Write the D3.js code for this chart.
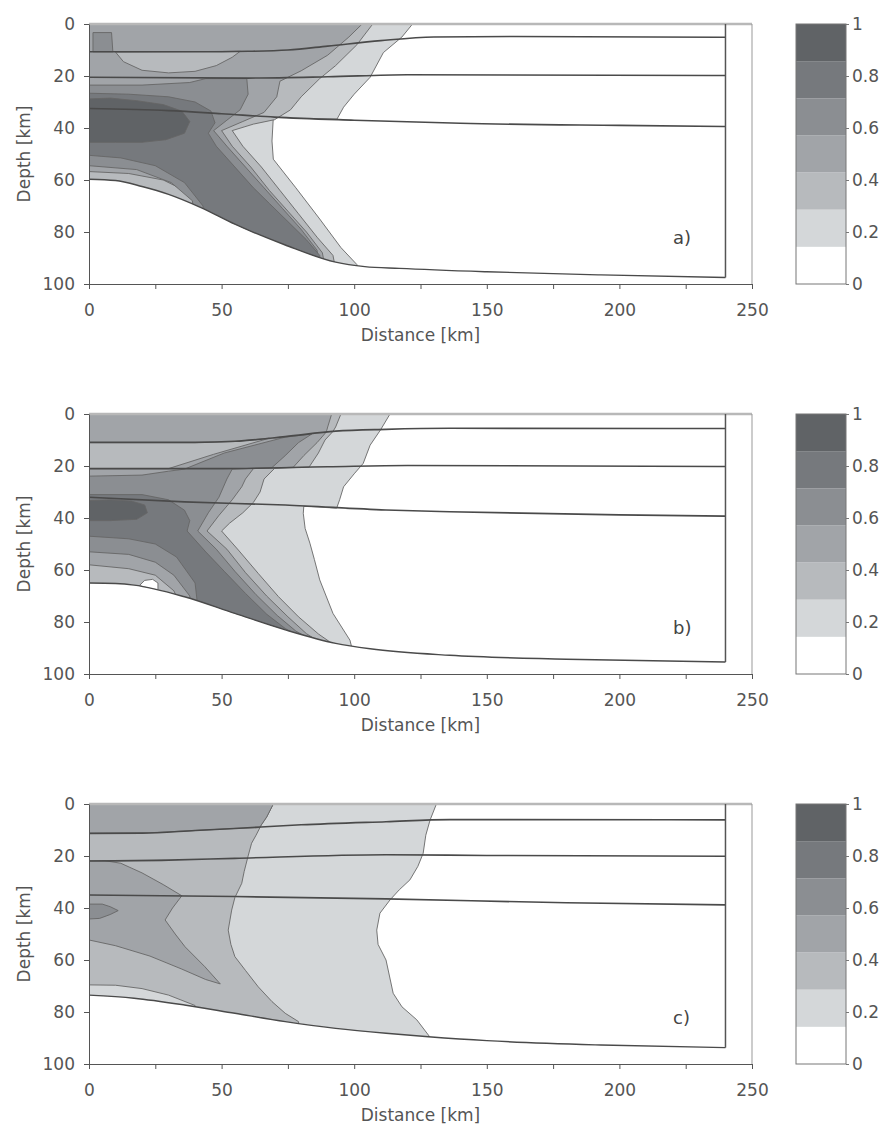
<!DOCTYPE html>
<html><head><meta charset="utf-8">
<script src="https://cdn.jsdelivr.net/npm/d3@7"></script>
<style>
body{margin:0;background:#fff;}
svg{display:block;font-family:"DejaVu Sans",sans-serif;}
</style></head><body>
<svg id="chart" width="888" height="1127"></svg>
<script>
// ---------------- data (distance km, depth km) ----------------
const xTicks = [0,25,50,75,100,125,150,175,200,225,250];
const yTicks = [0,20,40,60,80,100];
const cbTicks = [0,0.2,0.4,0.6,0.8,1];
const contourLevels = [0,0.143,0.286,0.429,0.571,0.714,0.857,1];
const panelLabels = ["a)","b)","c)"];
const xLabel = "Distance [km]";
const yLabel = "Depth [km]";

// panel a
const aLayers = [
  [[0,10.7],[40,10.7],[60,10.5],[75,10],[90,8.5],[110,6.4],[130,5.0],[160,4.8],[240,5.1]],
  [[0,20.5],[60,20.8],[90,20.3],[120,19.5],[240,19.8]],
  [[0,32.5],[30,33.3],[50,34.5],[70,35.8],[100,37],[140,38.2],[200,39],[240,39.4]]
];
const aBottom = [[0,59.7],[10,60.2],[20,62.5],[30,65.5],[42,70.5],[55,77],[74,85],[93,91.6],[104,93.3],[117,94],[150,95.3],[193,96.5],[240,97.5]];
const aRegions = [
  {level:1, pts:[[-5,-5],[123,-5],[122,0],[118,5],[111,11],[106,20.5],[100,27],[96,32],[93.5,36.6],[80,36.3],[69.5,35.9],[69,45],[69.5,52],[78,63],[87,75],[95,86],[101,92.5],[104,110],[-5,110]]},
  {level:2, pts:[[-5,-5],[108,-5],[107,0],[101,8],[93,16],[87,21],[80,28],[76,33],[70,36.8],[62,38.5],[54,41],[58,47],[65,55],[72,64],[79,73],[86,82],[92,89],[96,110],[-5,110]]},
  {level:3, pts:[[-5,-5],[104,-5],[103,0],[98,5],[90,12],[80,18],[72,22],[70.8,28],[66,34],[58,37.5],[50,41],[54,47],[61,55],[68,64],[75,72],[82,80],[88,88],[92,110],[-5,110]]},
  {level:2, pts:[[10,10.8],[13,14.5],[20,17.8],[30,18.8],[40,18.2],[48,16],[54,12.8],[57,10.5]]},
  {level:2, pts:[[-5,56.5],[15,57.5],[28,60],[36,64],[41,69],[41,110],[-5,110]]},
  {level:4, pts:[[1.5,3.3],[8.5,3.3],[9,10.7],[1.5,10.7]]},
  {level:4, pts:[[-5,23.5],[20,23.5],[38,22.5],[44,21],[59.5,21],[60,27],[57,33],[52,37],[47,41],[52,47],[59,55],[66,63],[73,71],[80,79],[86,87],[89,110],[42,110],[39,68],[31,61],[18,56],[0,54.5],[-5,54.5]]},
  {level:5, pts:[[-5,26.5],[15,27],[30,28],[40,30],[46,33.5],[47.5,38],[45,42],[48,47],[55,55],[62,63],[68,69],[75,76],[82,83],[87,89],[90,110],[46,110],[43,70],[36,61],[25,54.5],[12,51.5],[0,50.5],[-5,50.5]]},
  {level:6, pts:[[-5,29],[8,28.5],[18,29.5],[28,31],[35,33.5],[38,37.5],[36,42],[29,44.5],[20,45.5],[10,45.5],[-5,45.5]]}
];

// panel b
const bLayers = [
  [[0,10.9],[40,10.9],[55,10.5],[74,8.7],[93,6.6],[112,5.9],[136,5.5],[240,5.6]],
  [[0,21],[50,21],[90,20.3],[120,19.8],[240,20.2]],
  [[0,32],[36,33.8],[74,35],[112,36.9],[136,37.6],[200,38.8],[240,39.3]]
];
const bBottom = [[0,65],[10,65.2],[17,65.8],[36,70.3],[55,76.7],[74,83],[93,88.2],[106,90.3],[136,92.8],[180,94.3],[240,95.4]];
const bRegions = [
  {level:1, pts:[[-5,-5],[114,-5],[113.5,0],[110,6],[106,12],[103.4,19],[100,23],[96,28],[94.5,33],[93.4,36.2],[81,35.5],[80.8,38.2],[81.5,44],[83.3,49.7],[85,56],[87,63.8],[92,76.7],[98.4,87],[104,110],[-5,110]]},
  {level:2, pts:[[-5,-5],[95.5,-5],[95,0],[93,5],[92,6.7],[89,10],[86.5,15],[83,20.4],[70,20.9],[66,25],[64.5,30],[62,34],[58,38],[53,42],[50,45],[56.3,52.3],[63.8,61.3],[71.4,70.2],[79,78],[86.5,84.6],[92,88.5],[95,110],[-5,110]]},
  {level:3, pts:[[-5,-5],[92,-5],[91.5,0],[90,5],[89.5,6.9],[86,11],[81,16],[77,20.5],[62,21],[59,25],[57.6,28],[54,33],[49,39],[44.5,45],[52,52],[59,61],[67,70],[75,78],[82,84.5],[89,89],[92,110],[35,110],[35,75],[32,68],[25,62],[15,59.5],[0,58],[-5,58]]},
  {level:2, pts:[[-5,11],[40,11],[55,10.6],[68,9.3],[47,15.5],[30,21],[-5,21]]},
  {level:4, pts:[[-5,24],[20,23.5],[30,22],[36,21.2],[51,15],[74,8.9],[84,7.7],[79,11],[74,16],[69,20.6],[54,21.2],[52,25],[49,32],[45,38],[41,45],[48,52],[55,60.5],[63,69.5],[71,77.5],[78,83.5],[86,88],[89,110],[40,110],[38,70],[32,62],[25,57],[15,54],[0,53],[-5,53]]},
  {level:0, pts:[[19,66],[21,64],[24,63.6],[26,65],[26,68]]},
  {level:5, pts:[[-5,31],[20,31],[30,33],[36,37],[38,41],[37,45],[44,53],[51,60.5],[59,69],[67,77],[74,82.5],[82,87],[85,110],[45,110],[40,65],[33,55],[25,50],[15,48],[0,47],[-5,47]]},
  {level:6, pts:[[-5,33.5],[8,33],[16,33.5],[21,35],[22,38],[18,40.5],[8,41],[-5,41]]}
];

// panel c
const cLayers = [
  [[0,11.3],[20,11.2],[40,10.2],[55,9.4],[80,8],[112,6.8],[136,6],[240,6.1]],
  [[0,21.9],[30,21.6],[55,20.9],[112,19.5],[150,19.8],[240,20.1]],
  [[0,35],[55,35.6],[112,36.5],[180,38],[240,38.8]]
];
const cBottom = [[0,73.5],[17,74.7],[36,77.3],[55,80.5],[74,83.7],[93,86.3],[112,88.2],[128,89.5],[150,91],[193,92.7],[240,93.7]];
const cRegions = [
  {level:1, pts:[[-5,-5],[132,-5],[131,0],[128.6,6.2],[127,12],[126,19],[124,24],[121,29.2],[117,33],[113.5,36.9],[109.7,42],[108.5,48.5],[109,54],[112,60],[114.7,72.8],[118,78],[123.6,83],[128.6,89.7],[132,110],[-5,110]]},
  {level:2, pts:[[-5,-5],[70,-5],[69.5,0],[67,5],[65,8],[63,12],[61.3,15.1],[60,20],[58.5,26],[57.6,30.5],[55,36],[53.8,40.8],[52.5,48.5],[53.5,54],[55,58.7],[59,64],[63.8,70.3],[69,76],[74,80.5],[79,83.7],[81,110],[-5,110]]},
  {level:3, pts:[[-5,-5],[70,-5],[69.5,0],[67,5],[65,8],[64.3,9.1],[55,9.4],[40,10.2],[20,11.2],[0,11.3],[-5,11.3]]},
  {level:1, pts:[[-5,69.5],[10,69.7],[20,71],[30,73.5],[40,77.5],[44,110],[-5,110]]},
  {level:3, pts:[[-5,21.9],[6,21.8],[12,22.8],[20,26.5],[28,31],[35,35.3],[31.5,40],[28.7,44.6],[32.5,50],[36.2,54.9],[43.7,62.6],[49.5,69.2],[44,67.5],[35,63.5],[23,58.5],[10,54.5],[0,52.3],[-5,52.3]]},
  {level:4, pts:[[-5,38.5],[5,38.5],[8,39.5],[11,41],[8,42.5],[4,44],[-5,44.5]]}
];

// ---------------- drawing ----------------
const bandColors = ["#ffffff","#d4d7d9","#b7babd","#a1a4a8","#8b8e92","#76797d","#606366"];
const textColor = "#555";
const svg = d3.select("#chart");
const defs = svg.append("defs");
const x = d3.scaleLinear().domain([0,250]).range([89,752]);
const domainRight = 240;

const panels = [
  {top:24,  layers:aLayers, bottom:aBottom, regions:aRegions},
  {top:414, layers:bLayers, bottom:bBottom, regions:bRegions},
  {top:804, layers:cLayers, bottom:cBottom, regions:cRegions}
];

function styleAxis(sel){
  sel.select(".domain").attr("stroke","#555").attr("stroke-width",1);
  sel.selectAll(".tick line").attr("stroke","#555");
  sel.selectAll(".tick text").attr("fill",textColor).style("font-size","17px").style("font-family","'DejaVu Sans',sans-serif");
}

panels.forEach((p,i)=>{
  const y = d3.scaleLinear().domain([0,100]).range([p.top,p.top+260]);
  const g = svg.append("g");
  const poly = d3.line().x(d=>x(d[0])).y(d=>y(d[1]));
  const smooth = d3.line().x(d=>x(d[0])).y(d=>y(d[1])).curve(d3.curveMonotoneX);
  const domainPath = smooth(p.bottom) + `L${x(domainRight)},${y(0)}L${x(0)},${y(0)}Z`;
  defs.append("clipPath").attr("id","clip"+i).append("path").attr("d",domainPath);

  const cg = g.append("g").attr("clip-path",`url(#clip${i})`);
  cg.append("path").attr("d",domainPath).attr("fill",bandColors[0]);
  p.regions.forEach(r=>{
    cg.append("path").attr("d",poly(r.pts)+"Z")
      .attr("fill",bandColors[r.level])
      .attr("stroke","#666").attr("stroke-width",0.9).attr("stroke-linejoin","round");
  });

  // frame
  g.append("line").attr("x1",x(0)).attr("x2",x(250)).attr("y1",y(0)).attr("y2",y(0))
    .attr("stroke","#b8b8b8").attr("stroke-width",2.5);
  g.append("line").attr("x1",x(250)).attr("x2",x(250)).attr("y1",y(0)).attr("y2",y(100))
    .attr("stroke","#999").attr("stroke-width",1);

  // layer interfaces
  p.layers.forEach(l=>{
    g.append("path").attr("d",smooth(l)).attr("fill","none")
      .attr("stroke","#4a4a4a").attr("stroke-width",1.6);
  });
  g.append("path").attr("d",smooth(p.bottom)).attr("fill","none")
    .attr("stroke","#4a4a4a").attr("stroke-width",1.4);
  const last = p.bottom[p.bottom.length-1];
  g.append("line").attr("x1",x(domainRight)).attr("x2",x(domainRight)).attr("y1",y(0)).attr("y2",y(last[1]))
    .attr("stroke","#555").attr("stroke-width",1.5);

  // axes
  const ax = g.append("g").attr("transform",`translate(0,${y(100)})`)
    .call(d3.axisBottom(x).tickValues(xTicks).tickFormat(d=>d%50===0?d:"").tickSize(5).tickSizeOuter(0).tickPadding(15));
  styleAxis(ax);
  const ay = g.append("g").attr("transform",`translate(${x(0)},0)`)
    .call(d3.axisLeft(y).tickValues(yTicks).tickSize(5).tickSizeOuter(0).tickPadding(9));
  styleAxis(ay);

  g.append("text").attr("x",(x(0)+x(250))/2).attr("y",y(100)+57).attr("text-anchor","middle")
    .attr("fill",textColor).style("font-size","17px").text(xLabel);
  g.append("text").attr("transform",`translate(30,${y(50)}) rotate(-90)`).attr("text-anchor","middle")
    .attr("fill",textColor).style("font-size","17px").text(yLabel);
  g.append("text").attr("x",673).attr("y",p.top+220).attr("fill","#444").style("font-size","18px").text(panelLabels[i]);

  // colorbar
  const cb = d3.scaleLinear().domain([0,1]).range([p.top+260,p.top]);
  const cbg = svg.append("g");
  for(let k=0;k<contourLevels.length-1;k++){
    cbg.append("rect").attr("x",796).attr("width",50)
      .attr("y",cb(contourLevels[k+1])).attr("height",cb(contourLevels[k])-cb(contourLevels[k+1]))
      .attr("fill",bandColors[k]);
  }
  cbg.append("rect").attr("x",796).attr("y",cb(1)).attr("width",50).attr("height",cb(0)-cb(1))
    .attr("fill","none").attr("stroke","#777").attr("stroke-width",1);
  const cax = cbg.append("g").attr("transform","translate(846,0)")
    .call(d3.axisRight(cb).tickValues(cbTicks).tickFormat(d=>d===0?"0":d===1?"1":d.toFixed(1)).tickSize(3).tickSizeOuter(0).tickPadding(3));
  cax.select(".domain").remove();
  cax.selectAll(".tick line").attr("stroke","#777");
  cax.selectAll(".tick text").attr("fill",textColor).style("font-size","17px").style("font-family","'DejaVu Sans',sans-serif");
});
</script>
</body></html>
